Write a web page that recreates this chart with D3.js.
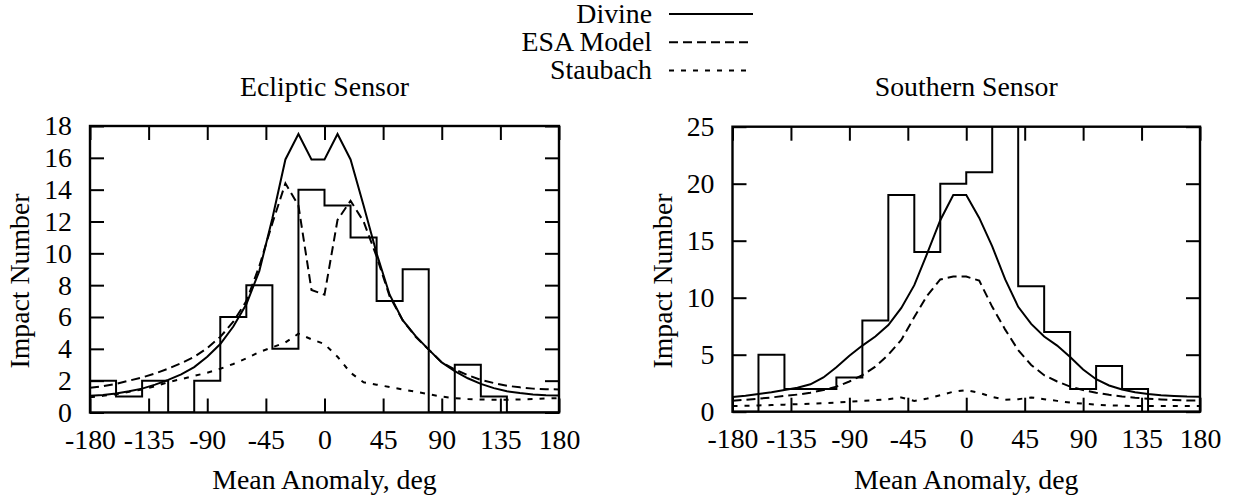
<!DOCTYPE html>
<html><head><meta charset="utf-8">
<script src="https://cdn.jsdelivr.net/npm/d3@7/dist/d3.min.js"></script>
<style>
body{margin:0;background:#fff;}
svg text{font-family:"Liberation Serif","Tinos","Times New Roman","DejaVu Serif",serif !important;font-size:27.8px;fill:#000;}
</style></head>
<body><svg id="c" width="1238" height="499"></svg>
<script>
// ---------- data ----------
const angles = [-180,-170,-160,-150,-140,-130,-120,-110,-100,-90,-80,-70,-60,-50,-40,-30,-20,-10,0,10,20,30,40,50,60,70,80,90,100,110,120,130,140,150,160,170,180];
const binStarts = [-180,-160,-140,-120,-100,-80,-60,-40,-20,0,20,40,60,80,100,120,140,160];
const binEnd = 180;

const eclHist = [2,1,2,0,2,6,8,4,14,13,11,7,9,0,3,1,0,0];
const eclDivine = [1.05,1.1,1.2,1.33,1.5,1.75,2.05,2.4,2.85,3.5,4.3,5.4,6.8,8.9,12.2,15.9,17.5,15.9,15.9,17.5,15.9,13.0,10.0,7.4,5.8,4.8,3.95,3.15,2.6,2.15,1.8,1.53,1.33,1.22,1.13,1.09,1.07];
const eclESA = [1.55,1.65,1.8,2.0,2.2,2.45,2.75,3.1,3.5,4.05,4.75,5.7,7.0,9.2,11.9,14.4,13.0,7.7,7.4,12.1,13.3,12.0,9.8,7.3,5.8,4.75,3.95,3.15,2.7,2.35,2.05,1.85,1.68,1.58,1.5,1.46,1.45];
const eclStaubach = [0.95,1.05,1.15,1.3,1.45,1.65,1.9,2.1,2.3,2.5,2.75,3.05,3.4,3.8,4.1,4.4,4.95,4.6,4.3,3.5,2.5,1.9,1.75,1.6,1.45,1.3,1.15,1.0,0.9,0.85,0.82,0.8,0.8,0.82,0.85,0.88,0.9];

const souHist = [0,5,2,2,3,8,19,14,20,21,28,11,7,2,4,2,0,0];
const souDivine = [1.3,1.4,1.55,1.7,1.9,2.1,2.4,3.0,3.9,4.9,5.8,6.6,7.6,9.1,11.1,13.9,16.8,19.0,19.0,17.0,14.5,11.6,9.2,7.7,6.6,5.8,4.8,3.7,2.85,2.3,1.95,1.7,1.55,1.45,1.38,1.33,1.32];
const souESA = [0.97,1.05,1.14,1.25,1.38,1.5,1.67,1.9,2.2,2.65,3.2,3.95,5.0,6.3,8.3,10.2,11.6,11.85,11.85,11.5,9.2,7.2,5.4,4.1,3.2,2.65,2.2,1.9,1.67,1.48,1.33,1.22,1.14,1.08,1.02,0.98,0.97];
const souStaubach = [0.5,0.52,0.55,0.58,0.62,0.66,0.7,0.75,0.8,0.88,0.95,1.02,1.1,1.25,0.95,1.15,1.45,1.75,1.9,1.65,1.3,1.05,1.1,1.25,1.1,0.95,0.8,0.7,0.62,0.56,0.52,0.5,0.5,0.5,0.5,0.5,0.5];

const xTicks = [-180,-135,-90,-45,0,45,90,135,180];
const eclYTicks = [0,2,4,6,8,10,12,14,16,18];
const souYTicks = [0,5,10,15,20,25];

const seriesNames = ["Divine","ESA Model","Staubach"];
const dashes = [null,"9,5","5,7"];

// ---------- drawing ----------
const svg = d3.select("#c");
const TICK = 14;
const fmt = d => String(d);

function panel(id, x0, x1, y0, y1, yMax, yTicks, hist, curves, title){
  const x = d3.scaleLinear().domain([-180,180]).range([x0,x1]);
  const y = d3.scaleLinear().domain([0,yMax]).range([y0,y1]);
  const g = svg.append("g");
  g.append("clipPath").attr("id",id).append("rect")
    .attr("x",x0).attr("y",y1).attr("width",x1-x0).attr("height",y0-y1);

  g.append("g").attr("transform",`translate(0,${y0})`)
    .call(d3.axisBottom(x).tickValues(xTicks).tickFormat(fmt).tickSize(-TICK).tickSizeOuter(0).tickPadding(16.3))
    .call(s=>{s.select(".domain").remove();});
  g.append("g").attr("transform",`translate(0,${y1})`)
    .call(d3.axisTop(x).tickValues(xTicks).tickSize(-TICK).tickSizeOuter(0).tickFormat(""))
    .call(s=>{s.select(".domain").remove();});
  g.append("g").attr("transform",`translate(${x0},0)`)
    .call(d3.axisLeft(y).tickValues(yTicks).tickFormat(fmt).tickSize(-TICK).tickSizeOuter(0).tickPadding(18))
    .call(s=>{s.select(".domain").remove();});
  g.append("g").attr("transform",`translate(${x1},0)`)
    .call(d3.axisRight(y).tickValues(yTicks).tickSize(-TICK).tickSizeOuter(0).tickFormat(""))
    .call(s=>{s.select(".domain").remove();});
  g.selectAll("g").attr("font-family",null).attr("font-size",null);
  g.selectAll(".tick line").attr("stroke","#000").attr("stroke-width",2);
  g.selectAll(".tick text").attr("fill","#000");

  const plot = g.append("g").attr("clip-path",`url(#${id})`);
  const hpts = binStarts.map((b,i)=>[b,hist[i]]).concat([[binEnd,hist[hist.length-1]]]);
  plot.append("path").datum(hpts)
    .attr("d", d3.line().x(d=>x(d[0])).y(d=>y(d[1])).curve(d3.curveStepAfter))
    .attr("fill","none").attr("stroke","#000").attr("stroke-width",2);
  curves.forEach((c,i)=>{
    plot.append("path").datum(c)
      .attr("d", d3.line().x((d,j)=>x(angles[j])).y(d=>y(d)))
      .attr("fill","none").attr("stroke","#000").attr("stroke-width",2)
      .attr("stroke-dasharray",dashes[i]);
  });
  g.append("rect").attr("x",x0).attr("y",y1).attr("width",x1-x0).attr("height",y0-y1)
    .attr("fill","none").attr("stroke","#000").attr("stroke-width",2.4);

  const cx = (x0+x1)/2;
  g.append("text").attr("x",cx).attr("y",96).attr("text-anchor","middle").text(title);
  g.append("text").attr("x",cx).attr("y",489).attr("text-anchor","middle").text("Mean Anomaly, deg");
  g.append("text").attr("transform",`translate(${x0-61},281) rotate(-90)`).attr("text-anchor","middle").text("Impact Number");
}

panel("clipL", 90, 559, 412.5, 126, 18, eclYTicks, eclHist, [eclDivine,eclESA,eclStaubach], "Ecliptic Sensor");
panel("clipR", 732.5, 1200, 411.7, 126.7, 25, souYTicks, souHist, [souDivine,souESA,souStaubach], "Southern Sensor");

const lg = svg.append("g");
seriesNames.forEach((n,i)=>{
  const ly = 14 + i*28.3;
  lg.append("text").attr("x",652).attr("y",ly+8.5).attr("text-anchor","end").text(n);
  lg.append("line").attr("x1",669).attr("x2",753).attr("y1",ly).attr("y2",ly)
    .attr("stroke","#000").attr("stroke-width",2).attr("stroke-dasharray",dashes[i]);
});
</script></body></html>
